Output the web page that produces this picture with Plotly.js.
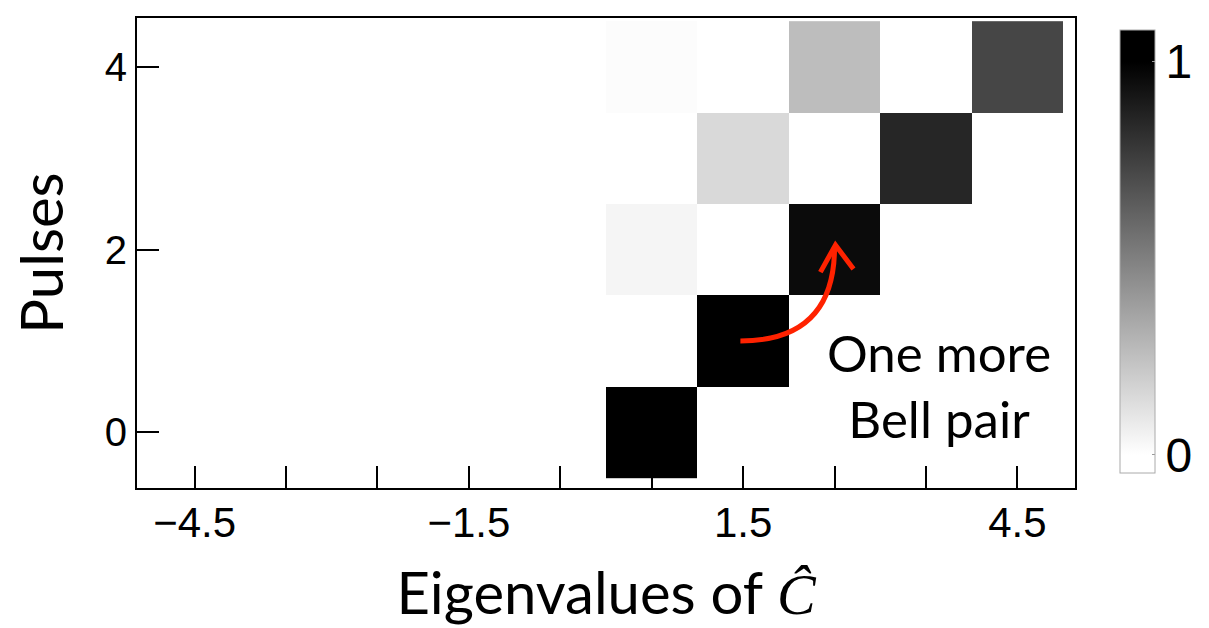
<!DOCTYPE html>
<html>
<head>
<meta charset="utf-8">
<script src="https://cdn.plot.ly/plotly-3.0.1.min.js"></script>
<style>html,body{margin:0;padding:0;background:#fff;}#chart{width:1209px;height:628px;}</style>
</head>
<body>
<div id="chart"></div>
<script>
// Data
const eigenvalues = [0.5, 1.5, 2.5, 3.5, 4.5];
const pulses = [0, 1, 2, 3, 4];
const row0 = [1.0, null, null, null, null];
const row1 = [null, 1.0, null, null, null];
const row2 = [0.04, null, 0.957, null, null];
const row3 = [null, 0.15, null, 0.85, null];
const row4 = [0.01, null, 0.26, null, 0.725];
const xTickVals = [-4.5, -3.5, -2.5, -1.5, -0.5, 0.5, 1.5, 2.5, 3.5, 4.5];
const xTickText = ['\u22124.5', '', '', '\u22121.5', '', '', '1.5', '', '', '4.5'];
const yTickVals = [0, 2, 4];
const cbTickVals = [0, 1];

const humanist = "'Gill Sans', 'Gill Sans MT', Lato, sans-serif";

const trace = {
  type: 'heatmap',
  x: eigenvalues,
  y: pulses,
  z: [row0, row1, row2, row3, row4],
  zmin: -0.046,
  zmax: 1.08,
  colorscale: [[0, '#ffffff'], [0.041, '#ffffff'], [0.929, '#000000'], [1, '#000000']],
  hoverongaps: false,
  colorbar: {
    x: 1.048, xanchor: 'left', xref: 'paper',
    y: 0.503, yanchor: 'middle',
    len: 0.943, lenmode: 'fraction',
    thickness: 35, thicknessmode: 'pixels',
    outlinecolor: '#aaaaaa', outlinewidth: 1,
    xpad: 0, ypad: 0,
    tickmode: 'array', tickvals: cbTickVals, ticktext: ['0', '1'],
    ticks: 'inside', ticklen: 3, tickcolor: '#999',
    tickfont: {family: 'Liberation Sans, Arial, sans-serif', size: 48, color: '#000'}
  }
};

const layout = {
  width: 1209, height: 628,
  margin: {l: 137, r: 134, t: 18, b: 140},
  paper_bgcolor: '#fff', plot_bgcolor: '#fff',
  xaxis: {
    range: [-5.13, 5.13],
    tickmode: 'array', tickvals: xTickVals, ticktext: xTickText,
    ticks: 'inside', ticklen: 22, tickwidth: 2, tickcolor: '#000',
    showline: true, linecolor: '#000', linewidth: 2, mirror: true,
    showgrid: false, zeroline: false,
    ticklabelstandoff: -3,
    tickfont: {family: 'Liberation Sans, Arial, sans-serif', size: 42, color: '#000'},
    title: {text: 'Eigenvalues of <span style="font-family:\'Liberation Serif\',serif;font-style:italic">\u0108</span>',
            font: {family: humanist, size: 58, color: '#000'}, standoff: 28}
  },
  yaxis: {
    range: [-0.61, 4.535],
    tickmode: 'array', tickvals: yTickVals,
    ticks: 'inside', ticklen: 22, tickwidth: 2, tickcolor: '#000',
    showline: true, linecolor: '#000', linewidth: 2, mirror: true,
    showgrid: false, zeroline: false,
    tickfont: {family: 'Liberation Sans, Arial, sans-serif', size: 40, color: '#000'},
    title: {text: 'Pulses', font: {family: humanist, size: 58, color: '#000'}, standoff: 22}
  },
  shapes: [
    {type: 'path', xref: 'x', yref: 'y', path: 'M 1.47,1.0 Q 2.5,1.0 2.5,2.03',
     line: {color: '#ff2200', width: 5}},
    {type: 'path', xref: 'x', yref: 'y', path: 'M 2.345,1.753 L 2.51,2.05 L 2.707,1.786',
     line: {color: '#ff2200', width: 5}}
  ],
  annotations: [
    {x: 3.64, y: 0.515, xref: 'x', yref: 'y', showarrow: false,
     text: 'One more<br>Bell pair', align: 'center',
     font: {family: humanist, size: 51, color: '#000'}}
  ],
  showlegend: false
};

Plotly.newPlot('chart', [trace], layout, {staticPlot: true, displayModeBar: false});
</script>
</body>
</html>
